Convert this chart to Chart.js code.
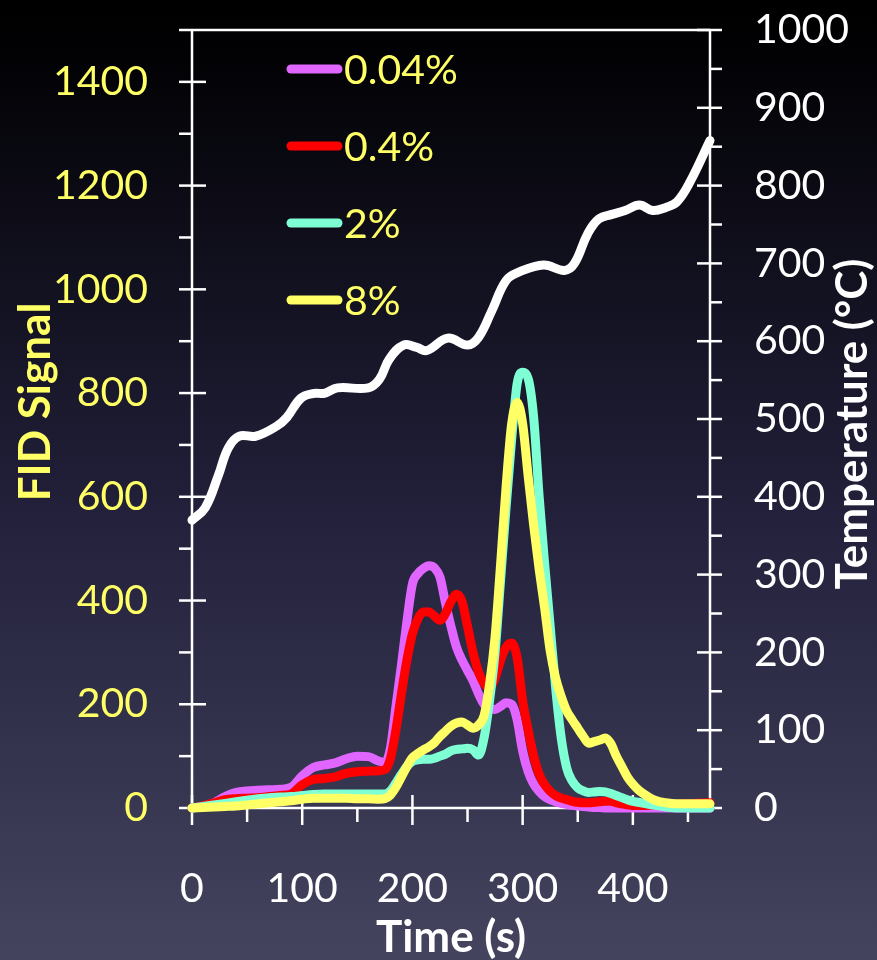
<!DOCTYPE html>
<html lang="en">
<head>
<meta charset="UTF-8">
<title>FID Signal and Temperature vs Time</title>
<script src="https://cdn.jsdelivr.net/npm/chart.js@4.4.0/dist/chart.umd.min.js"></script>
<style>
    body {
        margin: 0;
        background: #000;
    }
    canvas {
        display: block;
    }
</style>
</head>
<body>

<canvas id="fidChart" width="877" height="960"></canvas>

<script>
    // time axis (s) shared by the four FID traces
    const time = [0, 10, 20, 30, 40, 50, 60, 70, 80, 90, 100, 110, 120, 130, 140, 150, 160, 170,
        175, 180, 185, 190, 195, 200, 205, 210, 215, 220, 225, 230, 235, 240, 245, 250, 255, 260,
        265, 270, 275, 280, 285, 290, 295, 300, 305, 310, 315, 320, 325, 330, 335, 340, 345, 350,
        355, 360, 365, 370, 375, 380, 385, 390, 395, 400, 405, 410,
        420, 430, 440, 450, 460, 470];

    const fid004 = [0, 3, 10, 22, 30, 33, 34, 35, 36, 40, 62, 78, 83, 87, 95, 100, 99, 90,
        88, 115, 195, 275, 360, 432, 452, 462, 467, 463, 445, 395, 350, 310, 285, 265, 245, 220,
        200, 192, 190, 196, 203, 200, 170, 110, 70, 46, 32, 22, 16, 12, 9, 7, 5, 4,
        3, 2, 1, 1, 0, 0, 0, 0, 0, 0, 0, 0,
        0, 0, 0, 0, 0, 0];

    const fid04 = [0, 4, 10, 16, 18, 19, 20, 22, 24, 27, 45, 55, 57, 60, 67, 70, 71, 72,
        74, 95, 150, 220, 285, 336, 365, 378, 378, 370, 362, 375, 398, 412, 398, 350, 300, 262,
        240, 232, 250, 285, 310, 318, 290, 207, 150, 100, 65, 45, 32, 24, 19, 16, 13, 11,
        10, 10, 11, 12, 13, 13, 10, 8, 6, 5, 5, 5,
        6, 6, 7, 8, 9, 10];

    const fid2 = [0, 3, 6, 9, 12, 15, 18, 20, 21, 22, 24, 26, 27, 27, 27, 27, 27, 27,
        27, 33, 48, 65, 80, 90, 93, 94, 94, 96, 100, 104, 110, 113, 114, 115, 112, 102,
        135, 207, 300, 440, 580, 710, 818, 840, 828, 753, 600, 470, 350, 230, 135, 77, 52, 39,
        33, 30, 31, 32, 31, 28, 24, 20, 16, 13, 11, 9,
        5, 2, 0, 0, 0, 0];

    const fid8 = [0, 1, 2, 3, 4, 6, 8, 10, 12, 14, 17, 19, 19, 19, 19, 18, 18, 17,
        18, 25, 40, 60, 80, 97, 105, 112, 118, 126, 138, 148, 158, 164, 166, 160, 154, 160,
        178, 239, 330, 470, 620, 740, 782, 741, 640, 545, 460, 385, 303, 250, 215, 187, 170, 154,
        138, 125, 128, 131, 135, 124, 100, 80, 60, 46, 35, 27,
        15, 10, 8, 8, 8, 8];

    // temperature trace (right axis)
    const tempTime = [0, 12, 24, 33, 43, 58, 77, 86, 99, 111, 120, 132, 160, 170, 179, 192, 204, 213,
        232, 250, 260, 272, 285, 297, 319, 338, 347, 359, 369, 381, 393, 406, 418, 430, 440, 452, 470];
    const tempC = [370, 386, 428, 463, 478, 478, 491, 502, 527, 533, 533, 540, 540, 551, 577, 595, 592, 588,
        604, 595, 605, 639, 678, 689, 698, 691, 700, 738, 757, 763, 768, 775, 768, 772, 779, 805, 858];

    const seriesLabels = ['0.04%', '0.4%', '2%', '8%'];
    const seriesColors = ['#e066ff', '#ff0000', '#7fffd4', '#ffff66'];

    const xTicks = [0, 100, 200, 300, 400];
    const fidTicks = [0, 200, 400, 600, 800, 1000, 1200, 1400];
    const tempTicks = [0, 100, 200, 300, 400, 500, 600, 700, 800, 900, 1000];

    const FONT = 'Lato';
    const YELLOW = '#ffff66';

    function pts(xs, ys) {
        return xs.map((t, i) => ({x: t, y: ys[i]}));
    }

    const fidSeries = [fid004, fid04, fid2, fid8];

    const datasets = fidSeries.map((vals, i) => ({
        label: seriesLabels[i],
        data: pts(time, vals),
        borderColor: seriesColors[i],
        borderWidth: 9,
        borderCapStyle: 'round',
        borderJoinStyle: 'round',
        pointRadius: 0,
        cubicInterpolationMode: 'monotone',
        yAxisID: 'y',
        order: 3 - i,
        clip: false
    }));

    datasets.push({
        label: 'Temperature',
        data: pts(tempTime, tempC),
        borderColor: '#ffffff',
        borderWidth: 9,
        borderCapStyle: 'round',
        borderJoinStyle: 'round',
        pointRadius: 0,
        tension: 0.4,
        yAxisID: 'y2',
        order: 0,
        clip: false
    });

    const background = {
        id: 'background',
        beforeDraw(chart) {
            const {ctx, width, height} = chart;
            const g = ctx.createLinearGradient(0, 0, 0, height);
            g.addColorStop(0, '#000000');
            g.addColorStop(0.06, '#020205');
            g.addColorStop(0.53, '#22203a');
            g.addColorStop(1, '#44445f');
            ctx.save();
            ctx.fillStyle = g;
            ctx.fillRect(0, 0, width, height);
            ctx.restore();
        }
    };

    // axis lines with crossing major ticks and outward minor ticks
    const frame = {
        id: 'frame',
        beforeDatasetsDraw(chart) {
            const {ctx, chartArea: a} = chart;
            const {x, y, y2} = chart.scales;
            const seg = (x1, y1, x2, y2_) => {
                ctx.beginPath();
                ctx.moveTo(x1, y1);
                ctx.lineTo(x2, y2_);
                ctx.stroke();
            };
            ctx.save();
            ctx.strokeStyle = '#ffffff';
            ctx.lineWidth = 2.5;
            seg(a.left, a.top, a.right, a.top);
            seg(a.left, a.top, a.left, a.bottom);
            seg(a.right, a.top, a.right, a.bottom);
            seg(a.left, a.bottom, a.right, a.bottom);
            for (let v = 0; v <= 1500; v += 100) {
                const p = y.getPixelForValue(v);
                seg(a.left - 13, p, v % 200 === 0 ? a.left + 14 : a.left, p);
            }
            for (let v = 0; v <= 1000; v += 50) {
                const p = y2.getPixelForValue(v);
                seg(v % 100 === 0 ? a.right - 13 : a.right, p, a.right + 12, p);
            }
            for (let v = 0; v <= 450; v += 50) {
                const p = x.getPixelForValue(v);
                if (v % 100 === 0) seg(p, a.bottom - 13, p, a.bottom + 17);
                else seg(p, a.bottom, p, a.bottom + 14);
            }
            ctx.restore();
        }
    };

    // in-plot legend and axis titles
    const overlay = {
        id: 'overlay',
        afterDraw(chart) {
            const {ctx} = chart;
            ctx.save();
            seriesLabels.forEach((lab, i) => {
                const ly = 69 + i * 77;
                ctx.strokeStyle = seriesColors[i];
                ctx.lineWidth = 9;
                ctx.lineCap = 'round';
                ctx.beginPath();
                ctx.moveTo(291, ly);
                ctx.lineTo(338, ly);
                ctx.stroke();
                ctx.fillStyle = YELLOW;
                ctx.font = '41px ' + FONT;
                ctx.textAlign = 'left';
                ctx.textBaseline = 'middle';
                ctx.fillText(lab, 344, ly + 2);
            });

            ctx.font = 'bold 44px ' + FONT;
            ctx.textAlign = 'center';
            ctx.textBaseline = 'alphabetic';

            ctx.fillStyle = '#ffffff';
            ctx.fillText('Time (s)', 451, 952);

            ctx.save();
            ctx.translate(50, 402);
            ctx.rotate(-Math.PI / 2);
            ctx.fillStyle = YELLOW;
            ctx.fillText('FID Signal', 0, 0);
            ctx.restore();

            ctx.save();
            ctx.translate(867, 424);
            ctx.rotate(-Math.PI / 2);
            ctx.fillStyle = '#ffffff';
            ctx.fillText('Temperature (\u00B0C)', 0, 0);
            ctx.restore();

            ctx.restore();
        }
    };

    const noGrid = {display: false, drawTicks: false, tickLength: 0};
    const plain = v => String(v);

    new Chart(document.getElementById('fidChart').getContext('2d'), {
        type: 'line',
        data: {datasets: datasets},
        options: {
            responsive: false,
            animation: false,
            devicePixelRatio: 1,
            events: [],
            layout: {padding: {top: 30, left: 0, right: 0, bottom: 0}},
            plugins: {
                legend: {display: false},
                tooltip: {enabled: false}
            },
            scales: {
                x: {
                    type: 'linear',
                    min: 0,
                    max: 470,
                    grid: noGrid,
                    border: {display: false},
                    ticks: {color: '#ffffff', font: {family: FONT, size: 41}, padding: 56, maxRotation: 0, callback: plain},
                    afterBuildTicks: s => { s.ticks = xTicks.map(v => ({value: v})); },
                    afterFit: s => { s.height = 152; s.paddingLeft = 0; s.paddingRight = 0; }
                },
                y: {
                    type: 'linear',
                    position: 'left',
                    min: 0,
                    max: 1500,
                    grid: noGrid,
                    border: {display: false},
                    ticks: {color: YELLOW, font: {family: FONT, size: 41}, padding: 44, callback: plain},
                    afterBuildTicks: s => { s.ticks = fidTicks.map(v => ({value: v})); },
                    afterFit: s => { s.width = 192; s.paddingTop = 0; s.paddingBottom = 0; }
                },
                y2: {
                    type: 'linear',
                    position: 'right',
                    min: 0,
                    max: 1000,
                    grid: noGrid,
                    border: {display: false},
                    ticks: {color: '#ffffff', font: {family: FONT, size: 41}, padding: 44, callback: plain},
                    afterBuildTicks: s => { s.ticks = tempTicks.map(v => ({value: v})); },
                    afterFit: s => { s.width = 167; s.paddingTop = 0; s.paddingBottom = 0; }
                }
            }
        },
        plugins: [background, frame, overlay]
    });
</script>

</body>
</html>
